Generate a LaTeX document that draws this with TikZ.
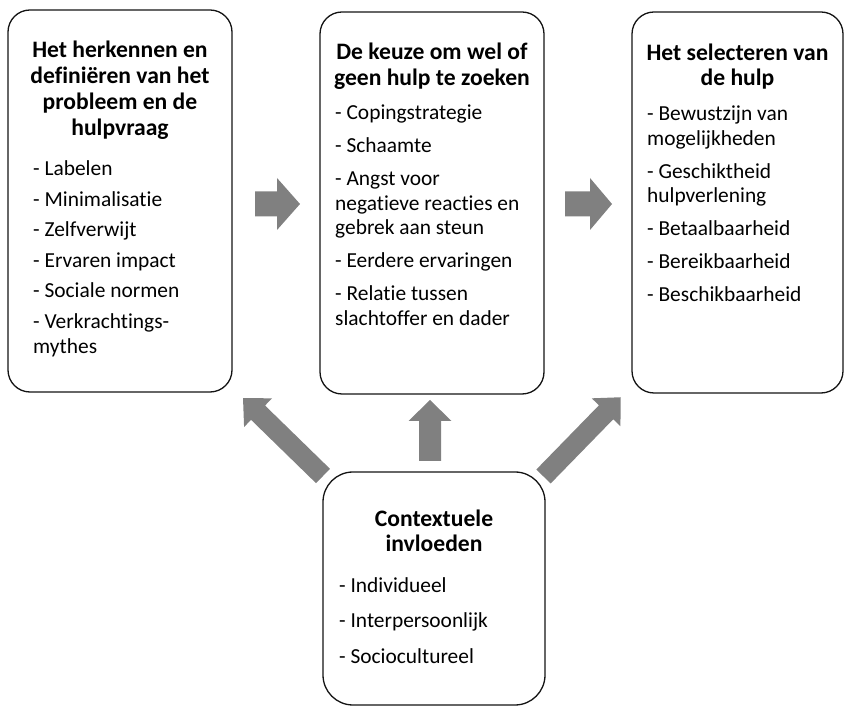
\documentclass[tikz,border=0pt]{standalone}
\usepackage{fontspec}
\setmainfont{Carlito}[Ligatures=CommonOff]
\usetikzlibrary{calc}
\definecolor{arrowgray}{RGB}{128,128,128}
\definecolor{boxline}{RGB}{20,20,20}
% #1 start, #2 end, #3 shaft half width, #4 head half width, #5 head length
\newcommand\fatarrow[5]{%
  \fill[arrowgray] let \p1=(#1), \p2=(#2),
    \n1={atan2(\y2-\y1,\x2-\x1)}, \n2={veclen(\x2-\x1,\y2-\y1)} in
  [shift={(\p1)}, rotate=\n1]
  (0pt,-#3pt) -- ({\n2-#5pt},-#3pt) -- ({\n2-#5pt},-#4pt) -- (\n2,0pt)
  -- ({\n2-#5pt},#4pt) -- ({\n2-#5pt},#3pt) -- (0pt,#3pt) -- cycle;}
\tikzset{
  box/.style={draw=boxline, line width=1.3pt, rounded corners=22pt, fill=white, inner sep=0pt},
  ttl/.style={font=\fontsize{23.6}{26}\selectfont\bfseries, inner sep=0pt, anchor=base},
  itm/.style={font=\fontsize{21.4}{24}\selectfont, inner sep=0pt, anchor=base west},
}
\begin{document}
\begin{tikzpicture}[x=1pt,y=-1pt]
\useasboundingbox[fill=white] (0,0) rectangle (847,708);
% boxes
\node[box, minimum width=224pt, minimum height=382pt] (b1) at (120,201) {};
\node[box, minimum width=224pt, minimum height=382pt] (b2) at (432,203) {};
\node[box, minimum width=211pt, minimum height=381pt] (b3) at (737.5,202.5) {};
\node[box, rounded corners=30pt, minimum width=222pt, minimum height=233pt] (b4) at (434,588.5) {};
% box 1 text
\node[ttl] (t1a) at (120,58) {Het herkennen en};
\node[ttl] (t1b) at (120,84) {definiëren van het};
\node[ttl] (t1c) at (120,110) {probleem en de};
\node[ttl] (t1d) at (120,136) {hulpvraag};
\node[itm] (i1a) at (33,176) {- Labelen};
\node[itm] (i1b) at (33,206.5) {- Minimalisatie};
\node[itm] (i1c) at (33,237) {- Zelfverwijt};
\node[itm] (i1d) at (33,267.5) {- Ervaren impact};
\node[itm] (i1e) at (33,298) {- Sociale normen};
\node[itm] (i1f) at (33,328.5) {- Verkrachtings-};
\node[itm] (i1g) at (33,353.5) {mythes};
% box 2 text
\node[ttl] (t2a) at (432,60) {De keuze om wel of};
\node[ttl] (t2b) at (432,85.5) {geen hulp te zoeken};
\node[itm] (i2a) at (335,120) {- Copingstrategie};
\node[itm] (i2b) at (335,153) {- Schaamte};
\node[itm] (i2c) at (335,186) {- Angst voor};
\node[itm] (i2d) at (335,210.5) {negatieve reacties en};
\node[itm] (i2e) at (335,235) {gebrek aan steun};
\node[itm] (i2f) at (335,268) {- Eerdere ervaringen};
\node[itm] (i2g) at (335,301) {- Relatie tussen};
\node[itm] (i2h) at (335,325.5) {slachtoffer en dader};
% box 3 text
\node[ttl] (t3a) at (737.5,61) {Het selecteren van};
\node[ttl] (t3b) at (737.5,86) {de hulp};
\node[itm] (i3a) at (647,121) {- Bewustzijn van};
\node[itm] (i3b) at (647,145.5) {mogelijkheden};
\node[itm] (i3c) at (647,178.5) {- Geschiktheid};
\node[itm] (i3d) at (647,203) {hulpverlening};
\node[itm] (i3e) at (647,236) {- Betaalbaarheid};
\node[itm] (i3f) at (647,269) {- Bereikbaarheid};
\node[itm] (i3g) at (647,302) {- Beschikbaarheid};
% box 4 text
\node[ttl] (t4a) at (434,527) {Contextuele};
\node[ttl] (t4b) at (434,552) {invloeden};
\node[itm] (i4a) at (339,593) {- Individueel};
\node[itm] (i4b) at (339,627) {- Interpersoonlijk};
\node[itm] (i4c) at (339,663) {- Sociocultureel};
% arrows
\coordinate (a1s) at (255,204);   \coordinate (a1e) at (300,204);
\coordinate (a2s) at (565,204);   \coordinate (a2e) at (612,204);
\coordinate (a3s) at (430,461);   \coordinate (a3e) at (430,400);
\coordinate (a4s) at (323,476);   \coordinate (a4e) at (243,398);
\coordinate (a5s) at (543.5,476.5); \coordinate (a5e) at (621,397);
\fatarrow{a1s}{a1e}{12.5}{26}{23}
\fatarrow{a2s}{a2e}{12.5}{26}{22}
\fatarrow{a3s}{a3e}{11}{21.5}{21}
\fatarrow{a4s}{a4e}{10}{20}{21}
\fatarrow{a5s}{a5e}{10}{20}{21}
\end{tikzpicture}
\end{document}
